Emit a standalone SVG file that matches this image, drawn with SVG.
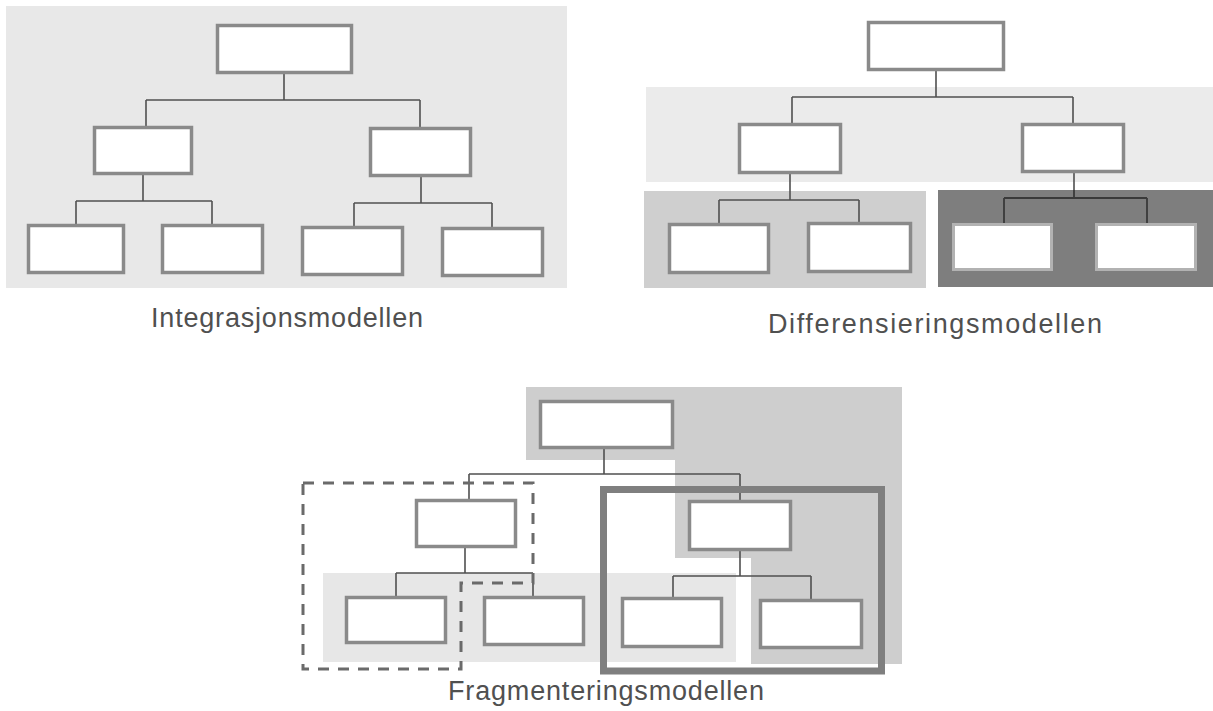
<svg xmlns="http://www.w3.org/2000/svg" width="1213" height="711" viewBox="0 0 1213 711">
<style>
.box{fill:#fff;stroke:#8a8a8a;stroke-width:3.5}
.boxd{fill:#fff;stroke:#b2b2b2;stroke-width:3}
.conn{fill:none;stroke:#505050;stroke-width:1.6}
.connd{fill:none;stroke:#3a3a3a;stroke-width:1.8}
.lbl{font-family:"Liberation Sans",Arial,sans-serif;font-size:27px;fill:#505050}
</style>
<rect x="0" y="0" width="1213" height="711" fill="#fff"/>
<g id="backgrounds">
<rect x="6" y="6" width="561" height="282" fill="#e8e8e8"/>
<rect x="646" y="87" width="567" height="95" fill="#ebebeb"/>
<rect x="644" y="191" width="282" height="97" fill="#cfcfcf"/>
<rect x="938" y="190" width="275" height="97" fill="#7e7e7e"/>
<polygon points="526,387 902,387 902,664 751,664 751,558 675,558 675,460 526,460" fill="#cecece"/>
<rect x="323" y="573" width="413" height="89" fill="#e7e7e7"/>
</g>
<g id="connectors">
<path class="conn" d="M284,74V100M146,100H420M146,100V126M420,100V127M143,175V201M76,201H212M76,201V224M212,201V224M421,177V203M354,203H492M354,203V226M492,203V227"/>
<path class="conn" d="M936,71V97M792,97H1073M792,97V123M1073,97V123M790,174V200M719,200H859M719,200V223M859,200V222M1074,173V190"/>
<path class="connd" d="M1074,190V198M1004,198H1147M1004,198V223M1147,198V223"/>
<path class="conn" d="M604,449V474M469,474H740M469,474V499M740,474V500M465,548V573M396,573H533M396,573V596M533,573V596M740,551V576M673,576H811M673,576V597M811,576V599"/>
</g>
<g id="frames">
<rect x="603.5" y="489.5" width="278" height="181.5" fill="none" stroke="#7f7f7f" stroke-width="7"/>
<polygon points="303,483 533,483 533,583 461,583 461,669 303,669" fill="none" stroke="#6a6a6a" stroke-width="3" stroke-dasharray="11 9"/>
</g>
<g id="integ-top"><rect class="box" x="217.5" y="25.5" width="134" height="47"/></g>
<g id="integ-ml"><rect class="box" x="94.5" y="127.5" width="97" height="46"/></g>
<g id="integ-mr"><rect class="box" x="370.5" y="128.5" width="100" height="47"/></g>
<g id="integ-b1"><rect class="box" x="28.5" y="225.5" width="95" height="47"/></g>
<g id="integ-b2"><rect class="box" x="162.5" y="225.5" width="100" height="47"/></g>
<g id="integ-b3"><rect class="box" x="302.5" y="227.5" width="100" height="47"/></g>
<g id="integ-b4"><rect class="box" x="442.5" y="228.5" width="100" height="47"/></g>
<g id="diff-top"><rect class="box" x="868.5" y="22.5" width="135" height="47"/></g>
<g id="diff-ml"><rect class="box" x="739.5" y="124.5" width="101" height="48"/></g>
<g id="diff-mr"><rect class="box" x="1022.5" y="124.5" width="101" height="47"/></g>
<g id="diff-b1"><rect class="box" x="669.5" y="224.5" width="99" height="48"/></g>
<g id="diff-b2"><rect class="box" x="808.5" y="223.5" width="102" height="48"/></g>
<g id="diff-b3"><rect class="boxd" x="953.5" y="224.5" width="98" height="45"/></g>
<g id="diff-b4"><rect class="boxd" x="1096.5" y="224.5" width="99" height="45"/></g>
<g id="frag-top"><rect class="box" x="540.5" y="401.5" width="132" height="46"/></g>
<g id="frag-ml"><rect class="box" x="416.5" y="500.5" width="99" height="46"/></g>
<g id="frag-mr"><rect class="box" x="689.5" y="501.5" width="101" height="48"/></g>
<g id="frag-b1"><rect class="box" x="346.5" y="597.5" width="99" height="45"/></g>
<g id="frag-b2"><rect class="box" x="484.5" y="597.5" width="99" height="47"/></g>
<g id="frag-b3"><rect class="box" x="622.5" y="598.5" width="99" height="48"/></g>
<g id="frag-b4"><rect class="box" x="760.5" y="600.5" width="101" height="47"/></g>
<g id="labels">
<text class="lbl" x="151" y="327" textLength="272" lengthAdjust="spacing">Integrasjonsmodellen</text>
<text class="lbl" x="768" y="333" textLength="334" lengthAdjust="spacing">Differensieringsmodellen</text>
<text class="lbl" x="448" y="700" textLength="316" lengthAdjust="spacing">Fragmenteringsmodellen</text>
</g>
</svg>
